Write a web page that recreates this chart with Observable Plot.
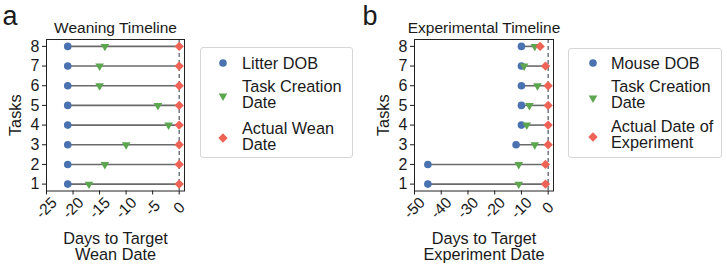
<!DOCTYPE html>
<html>
<head>
<meta charset="utf-8">
<script src="https://cdn.jsdelivr.net/npm/d3@7"></script>
<script src="https://cdn.jsdelivr.net/npm/@observablehq/plot@0.6"></script>
<style>
  body { margin: 0; background: #fff; font-family: "Liberation Sans", Arial, sans-serif; }
  #root { position: relative; width: 727px; height: 265px; overflow: hidden; }
  .panel { position: absolute; top: 0; }
  .legend { position: absolute; border: 1px solid #d6d6d6; border-radius: 3px; background: #fff; box-sizing: border-box; }
  .legend svg { position: absolute; overflow: visible; }
  .legend .lab { position: absolute; white-space: pre; font-size: 16.3px; line-height: 16px; color: #1a1a1a; }
</style>
</head>
<body>
<div id="root"></div>
<script>
// Task ids shared by both panels
const tasks = [1, 2, 3, 4, 5, 6, 7, 8];

// Weaning timeline: days relative to the target wean date
const weanDob     = [-21, -21, -21, -21, -21, -21, -21, -21];
const weanCreated = [-17, -14, -10, -2, -4, -15, -15, -14];
const weanActual  = [0, 0, 0, 0, 0, 0, 0, 0];
const weanTicks   = [-25, -20, -15, -10, -5, 0];
const weanLegend  = ["Litter DOB", "Task Creation\nDate", "Actual Wean\nDate"];

// Experimental timeline: days relative to the target experiment date
const expDob     = [-45, -45, -12, -10, -10, -10, -10, -10];
const expCreated = [-11, -11, -5, -8, -7, -4, -9, -5];
const expActual  = [-1, -1, 0, 0, 0, 0, -1, -3];
const expTicks   = [-50, -40, -30, -20, -10, 0];
const expLegend  = ["Mouse DOB", "Task Creation\nDate", "Actual Date of\nExperiment"];

const BLUE = "#4a72b0", GREEN = "#5ba64e", RED = "#ef6256";
const FONT = '"Liberation Sans", Arial, sans-serif';
const R_DOT = 3.8, R_TRI = 3.2, R_DIA = 4.2;

function timeline({dob, created, actual, ticks, domain, title, xlabel, letter, width, ml, mr}) {
  const rows = tasks.map((t, i) => ({task: t, dob: dob[i], created: created[i], actual: actual[i]}));
  const centered = {textAnchor: "middle", lineAnchor: "middle"};
  return Plot.plot({
    width, height: 265,
    marginLeft: ml, marginRight: mr, marginTop: 39, marginBottom: 74.5,
    style: {fontFamily: FONT, fontSize: "15px", color: "#1a1a1a", background: "transparent"},
    x: {domain, label: null},
    y: {domain: [0.65, 8.35], label: null},
    marks: [
      Plot.ruleX([0], {stroke: "#4d5563", strokeDasharray: "4,3", strokeWidth: 1.2}),
      Plot.ruleY(rows, {y: "task", x1: "dob", x2: "actual", stroke: "#6a6a6a", strokeWidth: 1.6}),
      Plot.dot(rows, {x: "dob", y: "task", r: R_DOT, fill: BLUE, symbol: "circle"}),
      Plot.dot(rows, {x: "created", y: "task", r: R_TRI, fill: GREEN, symbol: "triangle", rotate: 180}),
      Plot.dot(rows, {x: "actual", y: "task", r: R_DIA, fill: RED, symbol: "diamond2"}),
      Plot.frame({stroke: "#222", strokeWidth: 1}),
      Plot.axisY({ticks: tasks, tickSize: 4, tickPadding: 3, fontSize: 16, label: null, tickFormat: d => String(d)}),
      Plot.axisX({ticks, tickSize: 4, label: null, tickFormat: () => ""}),
      Plot.text(ticks, {x: d => d, text: d => String(d), frameAnchor: "bottom", dy: 17, rotate: -45, fontSize: 15.5, ...centered}),
      Plot.text([title], {frameAnchor: "top", dy: -11, fontSize: 15.5, ...centered}),
      Plot.text([xlabel], {frameAnchor: "bottom", textAnchor: "middle", lineAnchor: "top", dy: 41, fontSize: 16.3, lineHeight: 1.0}),
      Plot.text(["Tasks"], {frameAnchor: "left", dx: -31, rotate: -90, fontSize: 16.3, ...centered}),
      Plot.text([letter], {frameAnchor: "top-left", dx: -(ml - 2), dy: -23.5, textAnchor: "start", lineAnchor: "middle", fontSize: 27})
    ]
  });
}

function legend({labels, left, top, width, height, markerX, textX, markerY, textY}) {
  const box = document.createElement("div");
  box.className = "legend";
  Object.assign(box.style, {left: left + "px", top: top + "px", width: width + "px", height: height + "px"});
  const symbols = [
    {type: d3.symbolCircle, r: R_DOT, fill: BLUE, rotate: 0},
    {type: d3.symbolTriangle, r: R_TRI, fill: GREEN, rotate: 180},
    {type: d3.symbolDiamond2, r: R_DIA, fill: RED, rotate: 0}
  ];
  labels.forEach((label, i) => {
    const s = symbols[i];
    const svg = d3.create("svg").attr("width", 1).attr("height", 1)
      .style("left", markerX + "px").style("top", markerY[i] + "px");
    svg.append("path")
      .attr("d", d3.symbol(s.type, Math.PI * s.r * s.r)())
      .attr("fill", s.fill)
      .attr("transform", `rotate(${s.rotate})`);
    box.appendChild(svg.node());
    const lab = document.createElement("div");
    lab.className = "lab";
    lab.textContent = label;
    Object.assign(lab.style, {left: textX + "px", top: (textY[i] - 8) + "px"});
    box.appendChild(lab);
  });
  return box;
}

const root = document.getElementById("root");

const a = timeline({
  dob: weanDob, created: weanCreated, actual: weanActual, ticks: weanTicks,
  domain: [-25, 1], title: "Weaning Timeline", xlabel: "Days to Target\nWean Date",
  letter: "a", width: 195, ml: 46, mr: 11
});
a.classList.add("panel");
a.style.left = "0px";
root.appendChild(a);

const b = timeline({
  dob: expDob, created: expCreated, actual: expActual, ticks: expTicks,
  domain: [-50, 2], title: "Experimental Timeline", xlabel: "Days to Target\nExperiment Date",
  letter: "b", width: 212, ml: 54, mr: 19
});
b.classList.add("panel");
b.style.left = "360px";
root.appendChild(b);

root.appendChild(legend({
  labels: weanLegend, left: 200, top: 47, width: 153, height: 111,
  markerX: 22, textX: 41, markerY: [15, 48, 90], textY: [14.5, 38, 79.5]
}));
root.appendChild(legend({
  labels: expLegend, left: 568, top: 48, width: 154, height: 110,
  markerX: 23.5, textX: 42, markerY: [13.5, 48.5, 88], textY: [13.5, 37, 77]
}));
</script>
</body>
</html>
